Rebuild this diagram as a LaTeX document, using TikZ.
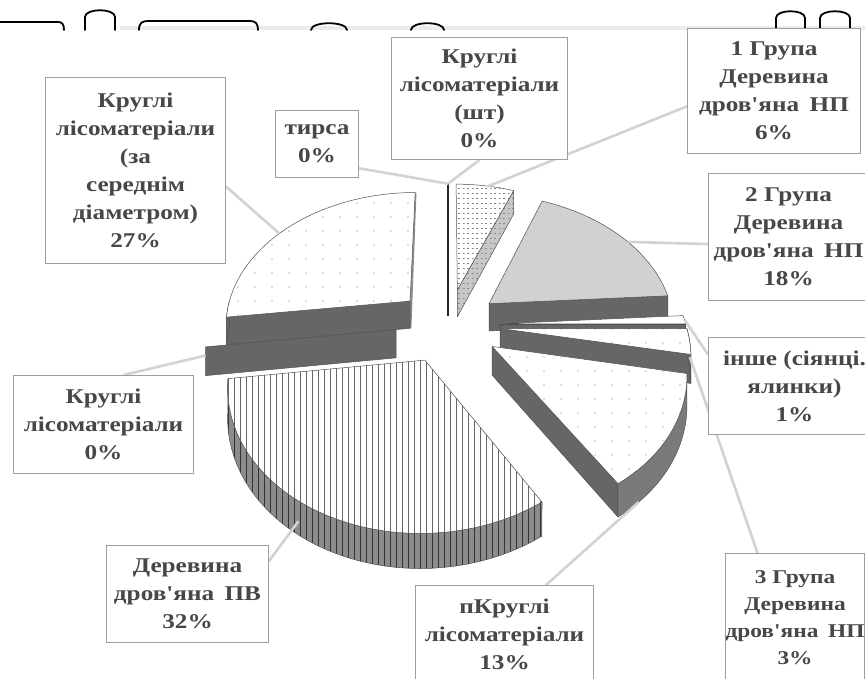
\documentclass[tikz,border=0pt]{standalone}
\usepackage{fontspec}
\newfontfamily\lbl{Liberation Serif}[FakeStretch=1.2]
\usetikzlibrary{patterns}
\pgfdeclarelayer{boxes}
\pgfsetlayers{main,boxes}
\pgfdeclarepatternformonly{sdots}{\pgfqpoint{-1pt}{-1pt}}{\pgfqpoint{1pt}{1pt}}{\pgfqpoint{17pt}{14pt}}{\pgfpathcircle{\pgfqpoint{0pt}{0pt}}{0.6pt}\pgfusepath{fill}}
\pgfdeclarepatternformonly{ddots}{\pgfqpoint{-1pt}{-1pt}}{\pgfqpoint{1pt}{1pt}}{\pgfqpoint{4.5pt}{5pt}}{\pgfpathrectangle{\pgfqpoint{-0.8pt}{-0.5pt}}{\pgfqpoint{1.8pt}{1pt}}\pgfusepath{fill}}
\pgfdeclarepatternformonly{vlines}{\pgfqpoint{-1pt}{-1pt}}{\pgfqpoint{1pt}{5pt}}{\pgfqpoint{6pt}{4pt}}{\pgfsetlinewidth{0.7pt}\pgfpathmoveto{\pgfqpoint{0pt}{0pt}}\pgfpathlineto{\pgfqpoint{0pt}{4.1pt}}\pgfusepath{stroke}}
\def\pcx{448}\def\pcy{325}\def\pR{186}\def\pS{133}\def\pa{0.16}\def\pe{0.28}\def\pH{28}
\tikzset{declare function={
  pu(\qr,\qt,\qf)=\qr*sin(\qt)+\pe*sin(\qf);
  pv(\qr,\qt,\qf)=\qr*cos(\qt)+\pe*cos(\qf);
  PX(\qr,\qt,\qf)=\pcx+\pR*pu(\qr,\qt,\qf)/(1+\pa*pv(\qr,\qt,\qf));
  PY(\qr,\qt,\qf,\qz)=\pcy+(\qz*\pH-\pS*pv(\qr,\qt,\qf))/(1+\pa*pv(\qr,\qt,\qf));
}}
\newcommand\pieface[4]{\path[#4] ({PX(0,0,#3)},{PY(0,0,#3,0)}) -- plot[domain=#1:#2,samples=40] ({PX(1,\x,#3)},{PY(1,\x,#3,0)}) -- cycle;}
\newcommand\piewall[3]{\path[#3] ({PX(0,0,#2)},{PY(0,0,#2,0)}) -- ({PX(1,#1,#2)},{PY(1,#1,#2,0)}) -- ({PX(1,#1,#2)},{PY(1,#1,#2,1)}) -- ({PX(0,0,#2)},{PY(0,0,#2,1)}) -- cycle;}
\newcommand\pieside[4]{\path[#4] plot[domain=#1:#2,samples=40] ({PX(1,\x,#3)},{PY(1,\x,#3,0)}) -- plot[domain=#2:#1,samples=40] ({PX(1,\x,#3)},{PY(1,\x,#3,1)}) -- cycle;}
\definecolor{walld}{RGB}{102,102,102}
\definecolor{edge}{RGB}{80,80,80}
\definecolor{lead}{RGB}{210,210,210}
\begin{document}
\begin{tikzpicture}[x=1pt,y=-1pt,
  outl/.style={draw=edge,line width=0.5pt,line join=round},
  wallst/.style={outl,fill=walld},
  dotface/.style={outl,preaction={fill=white},pattern=sdots,pattern color=black!55},
  box/.style={draw=black!38,line width=1pt,fill=white,inner sep=0pt,align=center,
    font=\lbl\bfseries\fontsize{21}{28}\selectfont,text=black!72,anchor=north west},
  leader/.style={draw=lead,line width=2.6pt},
  frag/.style={draw=black,line width=1.8pt,line cap=round}]
\useasboundingbox (0,0) rectangle (865,679);
\clip (0,0) rectangle (865,679);
\fill[white] (0,0) rectangle (865,679);
% cropped fragments at the top edge
\draw[black!8,line width=4pt] (120,28) -- (865,28);
\draw[frag] (0,22) -- (58,22) .. controls (62,22) and (64,24) .. (64,30);
\draw[frag] (85,30) -- (85,17) .. controls (85,8) and (115,8) .. (115,17) -- (115,30);
\draw[frag] (139,30) .. controls (139,23) and (142,21) .. (148,21) -- (250,21) .. controls (256,21) and (258,24) .. (258,30);
\draw[frag] (311,30) .. controls (311,21) and (347,21) .. (347,30);
\draw[frag] (411,30) .. controls (411,21) and (444,21) .. (444,30);
\draw[frag] (776,30) -- (776,18) .. controls (776,9) and (805,9) .. (805,18) -- (805,30);
\draw[frag] (820,30) -- (820,18) .. controls (820,9) and (850,9) .. (850,18) -- (850,30);
% ---- pie ----
% 1 Група 6%
\piewall{21.6}{10.8}{outl,preaction={fill=black!22},pattern=ddots,pattern color=black!45}
\pieface{0}{21.6}{10.8}{outl,preaction={fill=white},pattern=ddots,pattern color=black!50}
% шт 0% / тирса 0%
\draw[black!85,line width=1.8pt] ({PX(1,0,0)},{PY(1,0,0,0)}) -- ({PX(0,0,0)},{PY(0,0,0,1)});
% 27%
\draw[black!45,line width=2.6pt] ({PX(1,360,311.4)},{PY(1,360,311.4,0)}) -- ({PX(0,0,311.4)},{PY(0,0,311.4,1)});
\piewall{262.8}{311.4}{wallst}
\pieside{262.8}{270}{311.4}{wallst}
\pieface{262.8}{360}{311.4}{dotface}
% 2 Група 18%
\piewall{86.4}{54}{wallst}
\pieface{21.6}{86.4}{54}{outl,fill=black!18}
% інше 1%
\piewall{90}{88.2}{wallst}
\pieface{86.4}{90}{88.2}{dotface}
% 3 Група 3%
\piewall{100.8}{95.4}{wallst}
\pieside{90}{100.8}{95.4}{wallst}
\pieface{90}{100.8}{95.4}{dotface}
% пКруглі 13%
\piewall{147.6}{124.2}{wallst}
\pieside{100.8}{147.6}{124.2}{outl,fill=black!52}
\pieface{100.8}{147.6}{124.2}{dotface}
% Круглі 0%
\piewall{262.8}{262.8}{wallst}
% ПВ 32%
\pieside{147.6}{262.8}{205.2}{outl,preaction={fill=black!45},pattern=vlines,pattern color=black!80}
\pieface{147.6}{262.8}{205.2}{outl,preaction={fill=white},pattern=vlines,pattern color=black!60}
% ---- leader end points ----
\coordinate (l27) at ({PX(1,306,311.4)},{PY(1,306,311.4,0)});
\coordinate (ltop) at ({PX(1,0,0)},{PY(1,0,0,0)});
\coordinate (l1g) at ({PX(1,12,10.8)},{PY(1,12,10.8,0)});
\coordinate (l2g) at ({PX(1,58,54)},{PY(1,58,54,0)});
\coordinate (lin) at ({PX(1,88.2,88.2)},{PY(1,88.2,88.2,0)});
\coordinate (l3g) at ({PX(1,96,95.4)},{PY(1,96,95.4,0.5)});
\coordinate (lpk) at ({PX(1,140,124.2)},{PY(1,140,124.2,1)});
\coordinate (lpv) at ({PX(1,213,205.2)},{PY(1,213,205.2,0.6)});
\coordinate (lk0) at ({PX(1,262.8,262.8)},{PY(1,262.8,262.8,0.3)});
% ---- boxes (on top layer) ----
\begin{pgfonlayer}{boxes}
\node[box,minimum width=180,minimum height=186] (b27) at (45,77) {Круглі\\лісоматеріали\\(за\\середнім\\діаметром)\\27\%};
\node[box,minimum width=83,minimum height=67] (btyr) at (275,110) {тирса\\0\%};
\node[box,minimum width=176,minimum height=122] (bsht) at (391,37) {Круглі\\лісоматеріали\\(шт)\\0\%};
\node[box,minimum width=173,minimum height=125] (b1g) at (687,28) {1 Група\\Деревина\\дров'яна\enspace НП\\6\%};
\node[box,minimum width=160,minimum height=127] (b2g) at (708,173) {2 Група\\Деревина\\дров'яна\enspace НП\\18\%};
\node[box,minimum width=172,minimum height=97] (bin) at (708,337) {інше (сіянці.\\ялинки)\\1\%};
\node[box,minimum width=138,minimum height=129,font=\lbl\bfseries\fontsize{19.5}{27}\selectfont] (b3g) at (725,553) {3 Група\\Деревина\\дров'яна\enspace НП\\3\%};
\node[box,minimum width=178,minimum height=98] (bpk) at (415,585) {пКруглі\\лісоматеріали\\13\%};
\node[box,minimum width=162,minimum height=97] (bpv) at (106,545) {Деревина\\дров'яна\enspace ПВ\\32\%};
\node[box,minimum width=180,minimum height=98] (bk0) at (13,375) {Круглі\\лісоматеріали\\0\%};
\end{pgfonlayer}
% ---- leaders (under the boxes) ----
\draw[leader] (b27.-10) -- (l27);
\draw[leader] (btyr.-30) -- (ltop);
\draw[leader] (bsht.south) -- (ltop);
\draw[leader] (b1g.190) -- (l1g);
\draw[leader] (b2g.185) -- (l2g);
\draw[leader] (bin.160) -- (lin);
\draw[leader] (b3g.120) -- (l3g);
\draw[leader] (bpk.50) -- (lpk);
\draw[leader] (bpv.22) -- (lpv);
\draw[leader] (bk0.68) -- (lk0);
\end{tikzpicture}
\end{document}
